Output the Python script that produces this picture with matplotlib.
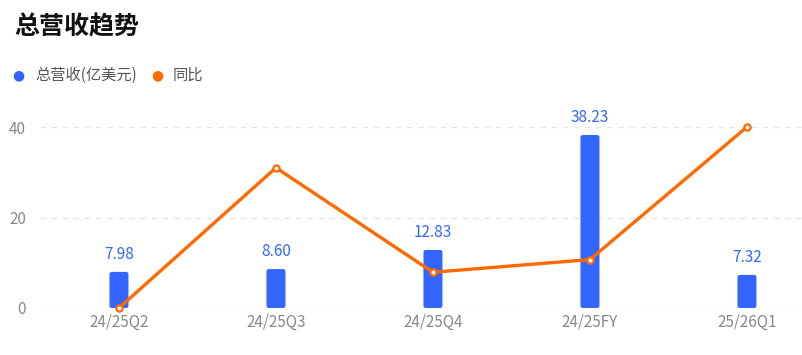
import matplotlib
matplotlib.use("Agg")
import matplotlib.pyplot as plt
from matplotlib.patches import FancyBboxPatch

plt.rcParams['font.family'] = ['Noto Sans CJK SC', 'DejaVu Sans']

categories = ["24/25Q2", "24/25Q3", "24/25Q4", "24/25FY", "25/26Q1"]
revenue = [7.98, 8.60, 12.83, 38.23, 7.32]
yoy = [0.0, 31.0, 7.9, 10.7, 40.0]
yticks = [0, 20, 40]

W, H = 803, 355
fig = plt.figure(figsize=(W / 100, H / 100), dpi=100, facecolor="white")
# plot area in pixels: x 40..803, y 127 (40) .. 308 (0)
ax = fig.add_axes([40 / W, (H - 308) / H, (803 - 40) / W, (308 - 127) / H])
ax.set_facecolor("white")
for s in ax.spines.values():
    s.set_visible(False)

x = list(range(len(categories)))
ax.set_xlim(-0.503, 4.357)
ax.set_ylim(0, 40)

blue = "#3366ff"
orange = "#ff6a00"

# bars with slightly rounded corners
bw = 19 / 157
for xi, v in zip(x, revenue):
    p = FancyBboxPatch((xi - bw / 2, 0), bw, v,
                       boxstyle="round,pad=0,rounding_size=0.015",
                       mutation_aspect=157 / 4.525,
                       fc=blue, ec="none", zorder=2)
    ax.add_patch(p)
    ax.text(xi, v + 3.8, f"{v:.2f}", color=blue, fontsize=11,
            ha="center", va="center", zorder=4)

ax.plot(x, yoy, "-o", color=orange, lw=2.4, ms=4.5, mfc="white", mec=orange,
        mew=1.6, zorder=3, clip_on=False)

ax.set_yticks(yticks)
ax.set_xticks(x)
ax.set_xticklabels(categories)
ax.tick_params(axis="both", length=0, colors="#888888", labelsize=11)
ax.tick_params(axis="y", pad=10)
ax.tick_params(axis="x", pad=4)
ax.grid(axis="y", color="#e6e6e6", lw=1.0, ls=(0, (4, 4)))
ax.grid(axis="x", visible=False)
ax.set_axisbelow(True)

fig.text(14 / W, 1 - 27 / H, "总营收趋势", fontsize=18, fontweight="bold",
         color="#111111", ha="left", va="center")

# legend
fig.text(18 / W, 1 - 75 / H, "●", color=blue, fontsize=10, ha="center",
         va="center", family=["DejaVu Sans"])
fig.text(35 / W, 1 - 75 / H, "总营收(亿美元)", color="#555555", fontsize=11,
         ha="left", va="center")
fig.text(157 / W, 1 - 75 / H, "●", color=orange, fontsize=10, ha="center",
         va="center", family=["DejaVu Sans"])
fig.text(173 / W, 1 - 75 / H, "同比", color="#555555", fontsize=11,
         ha="left", va="center")

fig.savefig("out.png", dpi=100, facecolor="white")
